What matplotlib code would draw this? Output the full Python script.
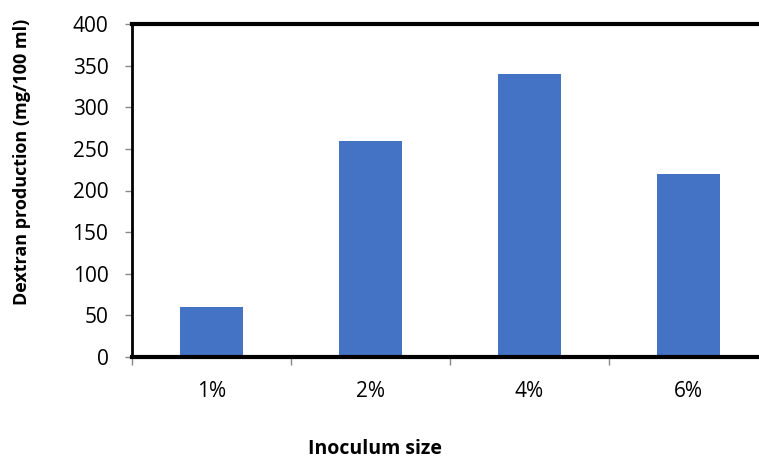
import matplotlib
matplotlib.use("Agg")
import matplotlib.pyplot as plt
from matplotlib.ticker import FixedLocator

categories = ["1%", "2%", "4%", "6%"]
values = [60, 260, 340, 220]
yticks = [0, 50, 100, 150, 200, 250, 300, 350, 400]

plt.rcParams['font.family'] = ['Open Sans', 'DejaVu Sans']

W, H = 759, 458
fig = plt.figure(figsize=(W/100, H/100), dpi=100)
ax = fig.add_axes([132/W, 1-357/H, (768-132)/W, (357-24)/H])

x = list(range(len(categories)))
ax.bar(x, values, width=0.4, color="#4472C4", zorder=2)
ax.set_xlim(-0.5, 3.5)
ax.set_ylim(0, 400)
ax.set_yticks(yticks)
ax.set_xticks(x)
ax.set_xticklabels(categories, fontsize=15)
ax.tick_params(axis='x', length=0, pad=17)
ax.xaxis.set_minor_locator(FixedLocator([-0.5, 0.5, 1.5, 2.5]))
ax.tick_params(axis='x', which='minor', length=6, color='#888888', width=1)
ax.tick_params(axis='y', length=5, color='#888888', width=1, labelsize=15, pad=12)

for s in ['top', 'bottom']:
    ax.spines[s].set_linewidth(3)
    ax.spines[s].set_color('black')
ax.spines['left'].set_linewidth(2)
ax.spines['left'].set_color('black')
ax.spines['right'].set_visible(False)

fig.text(22/W, 1-162/H, "Dextran production (mg/100 ml)", rotation=90,
         ha='center', va='center', fontsize=13, fontweight='bold')
fig.text(375/W, 1-449/H, "Inoculum size", ha='center', va='center',
         fontsize=14, fontweight='bold')

fig.savefig("out.png", dpi=100)
